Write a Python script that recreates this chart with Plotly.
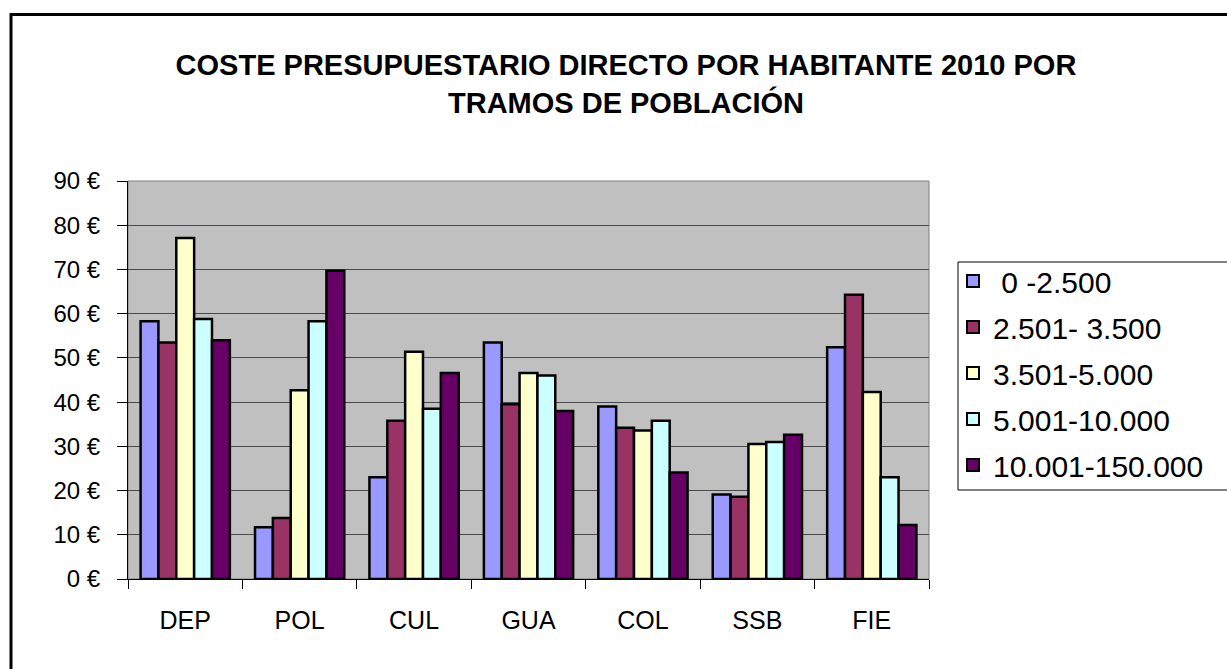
import plotly.graph_objects as go

categories = ["DEP", "POL", "CUL", "GUA", "COL", "SSB", "FIE"]
series_names = [" 0 -2.500", "2.501- 3.500", "3.501-5.000", "5.001-10.000", "10.001-150.000"]
s1 = [58.3, 11.7, 23.0, 53.5, 39.0, 19.1, 52.4]
s2 = [53.5, 13.8, 35.8, 39.5, 34.2, 18.6, 64.3]
s3 = [77.1, 42.7, 51.4, 46.6, 33.6, 30.5, 42.3]
s4 = [58.8, 58.3, 38.5, 46.0, 35.8, 31.0, 23.0]
s5 = [54.0, 69.7, 46.6, 38.0, 24.1, 32.6, 12.2]
series_values = [s1, s2, s3, s4, s5]
colors = ["#9999FF", "#993366", "#FFFFCC", "#CCFFFF", "#660066"]
y_ticks = [0, 10, 20, 30, 40, 50, 60, 70, 80, 90]
y_tick_labels = [f"{v} €" for v in y_ticks]

FONT = "Liberation Sans, Arial, sans-serif"

fig = go.Figure()
for i, (name, vals, col) in enumerate(zip(series_names, series_values, colors)):
    fig.add_trace(go.Bar(
        x=categories, y=vals, name=name,
        marker=dict(color=col, line=dict(color="black", width=2.5)),
        legendgroup=f"g{i}",
    ))

W, H = 1227, 669
L, R, T, B = 128, 929, 181, 579
pw, ph = R - L, B - T

def px_x(x):
    return (x - L) / pw

def px_y(y):
    return (B - y) / ph

fig.update_layout(
    width=W, height=H,
    margin=dict(l=L, r=W - R, t=T, b=H - B, pad=0),
    paper_bgcolor="white",
    plot_bgcolor="#C0C0C0",
    barmode="group",
    bargap=0.22,
    bargroupgap=0,
    font=dict(family=FONT, color="black", size=23),
    title=dict(
        text="<b>COSTE PRESUPUESTARIO DIRECTO POR HABITANTE 2010 POR<br>TRAMOS DE POBLACIÓN</b>",
        font=dict(family=FONT, size=29, color="black"),
        x=626 / W, xanchor="center", xref="container",
        y=(H - 75) / H, yanchor="middle", yref="container",
    ),
    legend=dict(
        x=px_x(953), xanchor="left",
        y=px_y(255), yanchor="top",
        borderwidth=0,
        bgcolor="rgba(0,0,0,0)",
        font=dict(family=FONT, size=30, color="black"),
        tracegroupgap=4,
        itemsizing="constant",
    ),
    showlegend=True,
    xaxis=dict(
        showline=True, linecolor="black", linewidth=1,
        ticks="outside", tickson="boundaries", ticklen=9, tickcolor="black",
        tickfont=dict(family=FONT, size=25),
        ticklabelstandoff=19,
        showgrid=False,
    ),
    yaxis=dict(
        range=[0, 90],
        tickvals=y_ticks, ticktext=y_tick_labels,
        showline=True, linecolor="black", linewidth=1,
        ticks="outside", ticklen=10, tickcolor="black",
        tickfont=dict(family=FONT, size=24),
        ticklabelstandoff=12,
        showgrid=True, gridcolor="#4a4a4a", gridwidth=1.3,
        zeroline=False,
    ),
    shapes=[
        dict(type="rect", xref="paper", yref="paper", x0=0, x1=1, y0=0, y1=1,
             line=dict(color="#808080", width=1), layer="below"),
        dict(type="rect", xref="paper", yref="paper",
             x0=px_x(11), x1=px_x(1240), y0=px_y(690), y1=px_y(14.5),
             line=dict(color="black", width=3)),
        dict(type="rect", xref="paper", yref="paper",
             x0=px_x(958), x1=px_x(1240), y0=px_y(490), y1=px_y(262),
             line=dict(color="black", width=1)),
    ],
)

fig.write_html("out.html", config={"displayModeBar": False},
               post_script="document.body.style.margin='0';document.body.style.overflow='hidden';")
